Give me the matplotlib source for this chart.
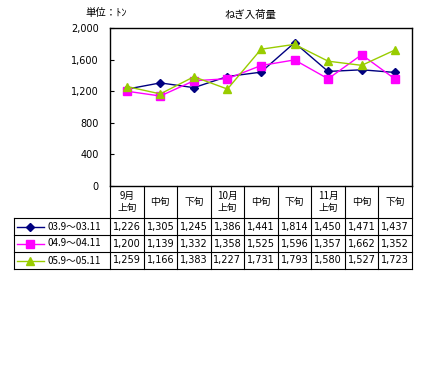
import matplotlib
matplotlib.use("Agg")
import matplotlib.pyplot as plt
from matplotlib.lines import Line2D

plt.rcParams['font.family'] = ['Noto Sans CJK JP', 'DejaVu Sans']

categories = ["9月\n上旬", "中旬", "下旬", "10月\n上旬", "中旬", "下旬", "11月\n上旬", "中旬", "下旬"]
series_names = ["03.9～03.11", "04.9～04.11", "05.9～05.11"]
s1 = [1226, 1305, 1245, 1386, 1441, 1814, 1450, 1471, 1437]
s2 = [1200, 1139, 1332, 1358, 1525, 1596, 1357, 1662, 1352]
s3 = [1259, 1166, 1383, 1227, 1731, 1793, 1580, 1527, 1723]
yticks = [0, 400, 800, 1200, 1600, 2000]
title = "ねぎ入荷量"
unit = "単位：ﾄﾝ"

series = [s1, s2, s3]
colors = ["#000080", "#FF00FF", "#99CC00"]
markers = ["D", "s", "^"]
msizes = [4, 5.5, 6]
numfont = ['DejaVu Sans']

W, H = 428, 371
fig = plt.figure(figsize=(W/100, H/100), dpi=100)

def fx(x): return x / W
def fy(y): return 1 - y / H

L, R, T, B = 110, 412, 28, 186
ax = fig.add_axes([fx(L), fy(B), fx(R) - fx(L), fy(T) - fy(B)])
xs = list(range(len(categories)))
for vals, c, m, ms in zip(series, colors, markers, msizes):
    ax.plot(xs, vals, color=c, marker=m, markersize=ms, linewidth=1,
            markerfacecolor=c, markeredgecolor=c)
ax.set_xlim(-0.5, len(categories) - 0.5)
ax.set_ylim(0, 2000)
ax.set_yticks(yticks)
ax.set_yticklabels([f"{v:,}" for v in yticks], fontsize=7, family=numfont)
ax.tick_params(axis='y', direction='in', length=3, width=0.8, pad=8)
ax.set_xticks([])
for sp in ax.spines.values():
    sp.set_linewidth(1)
    sp.set_color('black')

fig.text(fx(250), fy(15), title, ha='center', va='center', fontsize=7.5)
fig.text(fx(85), fy(13), unit, ha='left', va='center', fontsize=7.5)

# table
colw = (R - L) / len(categories)
rows_y = [B, 218, 235, 252, 269]
def hline(x0, x1, y):
    fig.add_artist(Line2D([fx(x0), fx(x1)], [fy(y), fy(y)], color='black', lw=0.8))
def vline(x, y0, y1):
    fig.add_artist(Line2D([fx(x), fx(x)], [fy(y0), fy(y1)], color='black', lw=0.8))

for y in rows_y[1:]:
    hline(14, R, y)
vline(14, rows_y[1], rows_y[-1])
for i in range(len(categories) + 1):
    vline(L + i * colw, B, rows_y[-1])

for i, cat in enumerate(categories):
    cx = L + (i + 0.5) * colw
    fig.text(fx(cx), fy((rows_y[0] + rows_y[1]) / 2), cat, ha='center', va='center',
             fontsize=7, linespacing=1.3)

for r, (name, vals, c, m, ms) in enumerate(zip(series_names, series, colors, markers, msizes)):
    cy = (rows_y[r + 1] + rows_y[r + 2]) / 2
    fig.add_artist(Line2D([fx(17), fx(44)], [fy(cy), fy(cy)], color=c, lw=1))
    fig.add_artist(Line2D([fx(30.5)], [fy(cy)], color=c, marker=m, markersize=ms,
                          markerfacecolor=c, markeredgecolor=c))
    fig.text(fx(47), fy(cy), name, ha='left', va='center', fontsize=7)
    for i, v in enumerate(vals):
        cx = L + (i + 0.5) * colw
        fig.text(fx(cx), fy(cy), f"{v:,}", ha='center', va='center', fontsize=7,
                 family=numfont)

fig.savefig("out.png", dpi=100)
